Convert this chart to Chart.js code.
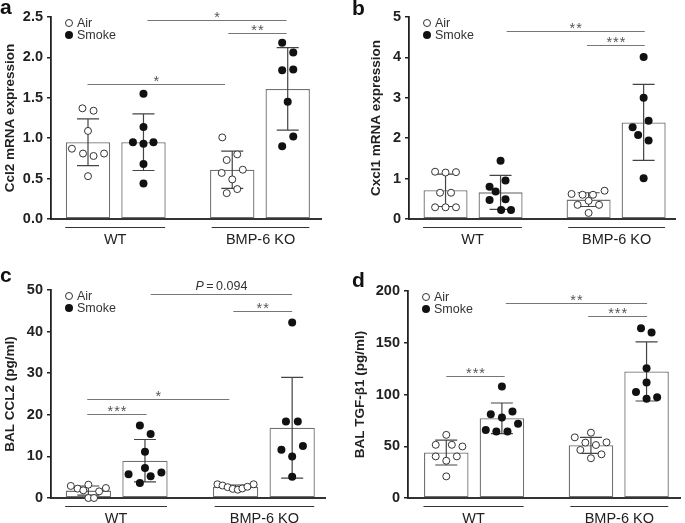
<!DOCTYPE html>
<html>
<head>
<meta charset="utf-8">
<script src="https://cdn.jsdelivr.net/npm/chart.js@4.4.0/dist/chart.umd.min.js"></script>
<style>
html,body{margin:0;padding:0;background:#fff}
#wrap{position:relative;width:685px;height:523px;overflow:hidden}
canvas{position:absolute}
</style>
</head>
<body>
<div id="wrap">
<canvas id="cA" width="340" height="255" style="left:0;top:0"></canvas>
<canvas id="cB" width="345" height="255" style="left:340px;top:0"></canvas>
<canvas id="cC" width="340" height="268" style="left:0;top:255px"></canvas>
<canvas id="cD" width="345" height="268" style="left:340px;top:255px"></canvas>
</div>
<script>
// bar order: WT air, WT smoke, KO air, KO smoke
var BAR_X = [1, 2, 3.6, 4.6];
var GROUPS = ['WT', 'BMP-6 KO'];
var GROUP_SPAN = [[0.59, 2.39], [3.23, 4.99]];

// dots are [x offset from bar centre, value]
// a - Ccl2
var aMean = [0.95, 0.95, 0.61, 1.61];
var aSD = [0.29, 0.35, 0.23, 0.51];
var aAirWT = [[-0.1,1.37],[0.1,1.34],[0,1.09],[-0.29,0.87],[-0.09,0.81],[0.1,0.78],[0.29,0.81],[0,0.53]];
var aSmkWT = [[0,1.55],[0,1.14],[-0.19,0.95],[0,0.93],[0.18,0.95],[0,0.68],[0,0.44]];
var aAirKO = [[-0.18,1.01],[-0.1,0.73],[0.09,0.80],[-0.19,0.57],[0.19,0.61],[0,0.49],[-0.1,0.32],[0.09,0.37]];
var aSmkKO = [[-0.1,2.18],[0.1,2.06],[-0.1,1.84],[0.1,1.85],[0,1.45],[0.1,1.02],[-0.1,0.90]];
var aSig = [[2.07,4.58,2.46,'*'],[3.53,4.58,2.30,'**'],[0.99,3.47,1.67,'*']];

// b - Cxcl1
var bMean = [0.71, 0.66, 0.48, 2.39];
var bSD = [0.40, 0.42, 0.17, 0.94];
var bAirWT = [[-0.19,1.17],[0,1.15],[0.19,1.16],[-0.1,0.65],[0.1,0.65],[-0.19,0.29],[0,0.29],[0.19,0.29]];
var bSmkWT = [[0,1.44],[-0.2,0.80],[0.09,0.95],[-0.09,0.68],[-0.2,0.47],[0.09,0.49],[0.01,0.22],[0.19,0.22]];
var bAirKO = [[-0.31,0.62],[-0.11,0.60],[0.08,0.60],[0.29,0.70],[-0.2,0.35],[0,0.45],[0.19,0.35],[0,0.15]];
var bSmkKO = [[0,4.01],[0,3.0],[0.09,2.43],[-0.2,2.27],[-0.1,2.08],[0.09,1.94],[0,1.01]];
var bSig = [[2.11,4.62,4.65,'**'],[3.57,4.62,4.30,'***']];

// c - BAL CCL2
var cMean = [1.78, 8.96, 2.68, 16.9];
var cSD = [1.1, 5.1, 0.45, 12.1];
var cAirWT = [[-0.31,2.9],[-0.19,2.25],[0,3.2],[0.31,2.4],[-0.09,1.85],[0.19,1.6],[0,0],[0.1,0]];
var cSmkWT = [[-0.09,17.4],[0.1,15.4],[0,11.1],[0,7.2],[-0.29,5.7],[0.1,5.2],[-0.09,3.6],[0.29,6.1]];
var cAirKO = [[-0.32,3.3],[-0.23,3.0],[-0.14,2.6],[-0.05,2.2],[0.04,2.0],[0.12,2.3],[0.21,2.7],[0.32,3.3]];
var cSmkKO = [[0,42.2],[-0.11,18.4],[0.1,18.4],[-0.19,11.6],[0.19,12.5],[0,10.0],[0,5.1]];
var cSig = [[2.10,4.6,49,'P=0.094'],[3.56,4.6,45,'**'],[0.98,3.49,23.7,'*'],[0.98,2.03,20.3,'***']];

// d - BAL TGF-b1
var dMean = [43.9, 77.0, 50.9, 122.3];
var dSD = [12, 14.8, 7.7, 28.6];
var dAirWT = [[0,61],[-0.19,51.4],[0.1,51.4],[0.29,49.8],[-0.19,40.2],[0.19,40.2],[0,36],[0,20.9]];
var dSmkWT = [[0,107.7],[-0.2,81],[0,77.8],[0.19,83.6],[0.29,71.7],[-0.29,65.6],[-0.1,64.3],[0.1,64.3]];
var dAirKO = [[0,63.1],[-0.29,58.6],[-0.1,53.5],[0.09,51.2],[0.28,53.8],[-0.19,46.4],[0.19,42.2],[0,38.4]];
var dSmkKO = [[-0.1,164],[0.09,159.8],[0,125.4],[0,111.6],[-0.19,102.3],[0.19,97.4],[0,95.8]];
var dSig = [[2.07,4.61,188.7,'**'],[3.55,4.61,175.9,'***'],[1.0,2.05,118,'***']];

Chart.defaults.font.family = "'Liberation Sans', Arial, Helvetica, sans-serif";
Chart.defaults.color = '#222';

var FF = "'Liberation Sans', Arial, sans-serif";

function pts(list, bx){return list.map(function(d){return {x:bx+d[0], y:d[1]}})}

function makeDeco(P){
    return {
        id:'deco',
        afterDatasetDraw:function(chart, args){
            if(args.meta.type!=='bar')return;
            var ctx=chart.ctx, yA=chart.scales.y;
            ctx.save();ctx.strokeStyle='#444';ctx.lineWidth=1.2;
            args.meta.data.forEach(function(el,i){
                var x=el.x, hi=yA.getPixelForValue(P.mean[i]+P.sd[i]), lo=yA.getPixelForValue(P.mean[i]-P.sd[i]);
                ctx.beginPath();
                ctx.moveTo(x,hi);ctx.lineTo(x,lo);
                ctx.moveTo(x-11,hi);ctx.lineTo(x+11,hi);
                ctx.moveTo(x-11,lo);ctx.lineTo(x+11,lo);
                ctx.stroke();
            });
            ctx.restore();
        },
        afterDraw:function(chart){
            var ctx=chart.ctx, xA=chart.scales.x, yA=chart.scales.y, a=chart.chartArea;
            ctx.save();
            // significance brackets
            P.sig.forEach(function(s){
                var x1=xA.getPixelForValue(s[0]), x2=xA.getPixelForValue(s[1]), y=Math.round(yA.getPixelForValue(s[2]))+0.5;
                ctx.strokeStyle='#777';ctx.lineWidth=1.2;
                ctx.beginPath();ctx.moveTo(x1,y);ctx.lineTo(x2,y);ctx.stroke();
                var cx=(x1+x2)/2;
                if(s[3].charAt(0)==='P'){
                    ctx.fillStyle='#333';ctx.textBaseline='alphabetic';
                    var rest='\u2009=\u2009'+s[3].split('=')[1];
                    ctx.font='italic 12.5px '+FF; var w1=ctx.measureText('P').width;
                    ctx.font='12.5px '+FF; var w2=ctx.measureText(rest).width;
                    var sx=cx-(w1+w2)/2;
                    ctx.textAlign='left';
                    ctx.font='italic 12.5px '+FF;ctx.fillText('P',sx,y-5);
                    ctx.font='12.5px '+FF;ctx.fillText(rest,sx+w1,y-5);
                }else{
                    ctx.fillStyle='#555';ctx.font='14.5px '+FF;ctx.textAlign='center';ctx.textBaseline='alphabetic';
                    ctx.letterSpacing='1px';
                    ctx.fillText(s[3],cx+0.5,y+1.5);
                    ctx.letterSpacing='0px';
                }
            });
            // legend inside plot area
            var ds=chart.data.datasets;
            [1,2].forEach(function(k,j){
                var d=ds[k], cy=a.top+6+j*12, cxp=a.left+18;
                ctx.beginPath();ctx.arc(cxp,cy,d.pointRadius,0,Math.PI*2);
                ctx.fillStyle=d.backgroundColor;ctx.fill();
                if(d.borderWidth){ctx.strokeStyle=d.borderColor;ctx.lineWidth=d.borderWidth;ctx.stroke();}
                ctx.fillStyle='#333';ctx.font='12.5px '+FF;ctx.textAlign='left';ctx.textBaseline='middle';
                ctx.fillText(d.label,a.left+26,cy+0.5);
            });
            // group underlines and labels
            ctx.strokeStyle='#333';ctx.lineWidth=1;
            GROUPS.forEach(function(g,i){
                var x1=xA.getPixelForValue(GROUP_SPAN[i][0]), x2=xA.getPixelForValue(GROUP_SPAN[i][1]);
                var uy=Math.round(a.bottom+8)+0.5;
                ctx.beginPath();ctx.moveTo(x1,uy);ctx.lineTo(x2,uy);ctx.stroke();
                ctx.fillStyle='#222';ctx.font='14.5px '+FF;ctx.textAlign='center';ctx.textBaseline='middle';
                ctx.fillText(g,(x1+x2)/2,a.bottom+20.5);
            });
            // panel letter
            ctx.fillStyle='#111';ctx.font='bold 21px '+FF;ctx.textAlign='left';ctx.textBaseline='alphabetic';
            ctx.fillText(P.letter,P.lx,P.ly);
            ctx.restore();
        }
    };
}

function panel(id, P){
    var air=pts(P.airWT,BAR_X[0]).concat(pts(P.airKO,BAR_X[2]));
    var smk=pts(P.smkWT,BAR_X[1]).concat(pts(P.smkKO,BAR_X[3]));
    return new Chart(document.getElementById(id),{
        type:'bar',
        data:{datasets:[
            {type:'bar',label:'Mean',data:BAR_X.map(function(x,i){return {x:x,y:P.mean[i]}}),backgroundColor:'#fff',borderColor:'#707070',borderWidth:1.3,borderSkipped:false,barPercentage:0.8,categoryPercentage:1,order:3},
            {type:'scatter',label:'Air',data:air,pointRadius:3.5,backgroundColor:'#fff',borderColor:'#333',borderWidth:1,pointHoverRadius:3.5,clip:false,order:1},
            {type:'scatter',label:'Smoke',data:smk,pointRadius:4,backgroundColor:'#111',borderColor:'#111',borderWidth:0,pointHoverRadius:4,clip:false,order:1}
        ]},
        options:{
            responsive:false,animation:false,devicePixelRatio:1,events:[],
            layout:{padding:{left:0,top:P.top,right:P.right,bottom:P.bottom}},
            plugins:{legend:{display:false},tooltip:{enabled:false}},
            scales:{
                x:{type:'linear',min:P.xmin,max:P.xmax,offset:false,
                   ticks:{display:false,stepSize:1,includeBounds:false},
                   grid:{display:false},border:{display:true,color:'#333',width:2},
                   afterFit:function(s){s.height=0}},
                y:{type:'linear',min:0,max:P.ymax,
                   ticks:{stepSize:P.step,padding:4,color:'#222',font:{size:14.5,weight:'bold'},callback:function(v){return v.toFixed(P.dec)}},
                   grid:{display:true,drawOnChartArea:false,drawTicks:true,tickLength:4,color:'#222',lineWidth:1.5},
                   border:{display:true,color:'#222',width:1.8},
                   title:{display:true,text:P.title,color:'#222',font:{size:13.5,weight:'bold'},padding:{top:P.tpad,bottom:0}},
                   afterFit:function(s){s.width=P.yw}}
            }
        },
        plugins:[makeDeco(P)]
    });
}

panel('cA',{mean:aMean,sd:aSD,airWT:aAirWT,smkWT:aSmkWT,airKO:aAirKO,smkKO:aSmkKO,sig:aSig,
    title:'Ccl2 mRNA expression',ymax:2.5,step:0.5,dec:1,letter:'a',lx:0,ly:14,
    yw:51,top:17,right:19,bottom:36,xmin:0.333,xmax:5.2,tpad:1.7});
panel('cB',{mean:bMean,sd:bSD,airWT:bAirWT,smkWT:bSmkWT,airKO:bAirKO,smkKO:bSmkKO,sig:bSig,
    title:'Cxcl1 mRNA expression',ymax:5,step:1,dec:0,letter:'b',lx:12,ly:15,
    yw:69,top:17,right:10,bottom:36,xmin:0.336,xmax:5.17,tpad:27.7});
panel('cC',{mean:cMean,sd:cSD,airWT:cAirWT,smkWT:cSmkWT,airKO:cAirKO,smkKO:cSmkKO,sig:cSig,
    title:'BAL CCL2 (pg/ml)',ymax:50,step:10,dec:0,letter:'c',lx:0,ly:27,
    yw:51,top:35,right:15,bottom:25,xmin:0.34,xmax:5.18,tpad:2.5});
panel('cD',{mean:dMean,sd:dSD,airWT:dAirWT,smkWT:dSmkWT,airKO:dAirKO,smkKO:dSmkKO,sig:dSig,
    title:'BAL TGF-\u03b21 (pg/ml)',ymax:200,step:50,dec:0,letter:'d',lx:12,ly:32,
    yw:68,top:36,right:2,bottom:25,xmin:0.312,xmax:5.21,tpad:11.9});
</script>
</body>
</html>
